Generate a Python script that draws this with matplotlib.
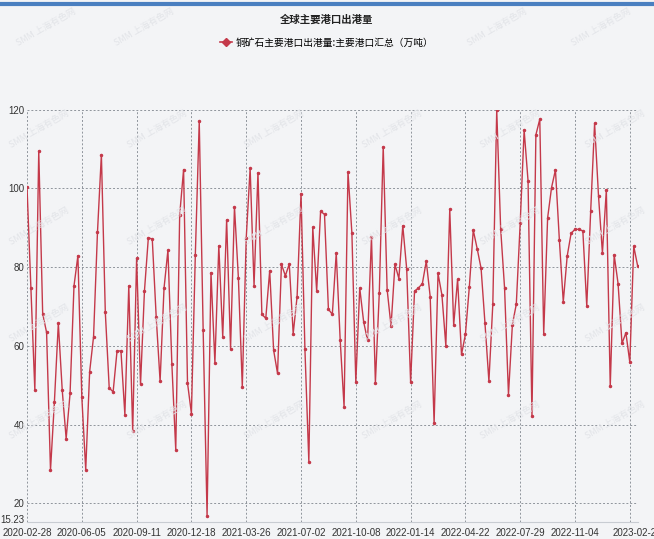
import matplotlib.pyplot as plt
from matplotlib.lines import Line2D
from matplotlib import font_manager as fm
from matplotlib.transforms import ScaledTranslation
import pandas as pd

plt.rcParams['font.family'] = ['Noto Sans CJK SC', 'DejaVu Sans']

title = '全球主要港口出港量'
series_name = '铜矿石主要港口出港量:主要港口汇总（万吨）'
dates = pd.date_range('2020-02-28', periods=157, freq='7D').strftime('%Y-%m-%d').tolist()
values = [
    100.4, 74.6, 48.7, 109.5, 68.2, 63.4, 28.4, 45.8, 65.7, 48.7,
    36.4, 47.9, 75.2, 82.9, 47.0, 28.5, 53.4, 62.3, 88.8, 108.6,
    68.6, 49.3, 48.3, 58.7, 58.7, 42.5, 75.2, 38.3, 82.2, 50.2,
    73.9, 87.5, 87.1, 67.4, 51.0, 74.6, 84.3, 55.5, 33.5, 93.2,
    104.8, 50.6, 42.8, 83.2, 117.0, 64.0, 16.8, 78.6, 55.7, 85.4,
    62.3, 92.0, 59.3, 95.3, 77.3, 49.6, 87.3, 105.1, 75.3, 104.0,
    68.0, 67.0, 79.1, 58.9, 53.0, 80.7, 77.8, 80.8, 63.1, 72.5,
    98.7, 59.1, 30.5, 90.1, 73.9, 94.2, 93.4, 69.3, 68.0, 83.6,
    61.6, 44.5, 104.2, 88.6, 50.8, 74.7, 66.1, 61.4, 87.7, 50.6,
    73.5, 110.6, 74.3, 65.0, 80.7, 77.1, 90.5, 79.5, 50.8, 73.9,
    74.7, 75.8, 81.5, 72.5, 40.3, 78.4, 72.9, 60.0, 94.7, 65.3,
    76.9, 57.8, 62.9, 75.0, 89.4, 84.7, 79.7, 65.7, 51.0, 70.6,
    119.9, 89.8, 74.7, 47.6, 65.4, 70.6, 91.3, 114.8, 101.9, 42.2,
    113.6, 117.6, 62.9, 92.5, 100.2, 104.7, 86.9, 71.2, 82.8, 88.6,
    89.6, 89.6, 89.2, 70.1, 94.2, 116.5, 98.1, 83.6, 99.6, 49.7,
    83.1, 75.8, 60.6, 63.3, 55.8, 85.3, 80.3,
]
y_ticks = [15.23, 20, 40, 60, 80, 100, 120]
y_labels = ['15.23', '20', '40', '60', '80', '100', '120']

# narrow font for the tick labels if there is one
try:
    fm.findfont(fm.FontProperties(family='Liberation Sans Narrow'), fallback_to_default=False)
    tick_font, tick_size = 'Liberation Sans Narrow', 8.5
except Exception:
    tick_font, tick_size = 'Liberation Sans', 7

red = '#c4394a'
bg = '#f3f4f6'

fig = plt.figure(figsize=(6.54, 5.39), dpi=100, facecolor=bg)
ax = fig.add_axes([0.0413, 0.0315, 0.9337, 0.765])
ax.set_facecolor(bg)

x = list(range(len(values)))
ax.plot(x, values, color=red, lw=1.0, marker='o', markersize=1.5, zorder=3)

ax.set_xlim(0, len(values) - 1)
ax.set_ylim(15.23, 120)

xt = list(range(0, len(values), 14)) + [len(values) - 1]
ax.set_xticks(xt)
ax.set_xticklabels(['' if i == 154 else dates[i] for i in xt],
                   fontsize=tick_size, family=tick_font, color='#333333')
ax.set_yticks(y_ticks)
ax.set_yticklabels(y_labels, fontsize=tick_size, family=tick_font, color='#333333')
ax.tick_params(axis='both', length=0)
ax.tick_params(axis='x', pad=4)
ax.tick_params(axis='y', pad=2)
# lift the 15.23 label a little off the date labels
lbl = ax.get_yticklabels()[0]
lbl.set_transform(lbl.get_transform() + ScaledTranslation(0, 3 / 100, fig.dpi_scale_trans))

ax.grid(True, color='#8f959c', lw=0.7, ls=(0, (2, 2)))
for s in ['top', 'left', 'right']:
    ax.spines[s].set_visible(False)
ax.spines['bottom'].set_color('#c8ccd2')
ax.spines['bottom'].set_linewidth(0.8)

# top blue stripe
fig.add_artist(Line2D([0, 1], [0.993, 0.993], color='#4a7fc0', lw=3, transform=fig.transFigure))

fig.text(0.5, 0.963, title, ha='center', va='center', fontsize=7.5, fontweight='bold', color='#222222')
handle = Line2D([], [], color=red, lw=1.2, marker='D', markersize=4)
fig.legend([handle], [series_name], loc='center', bbox_to_anchor=(0.5, 0.921),
           frameon=False, fontsize=7, handlelength=1.2, handletextpad=0.4)

# faint watermarks
marks = [(0.07, 0.95), (0.22, 0.95), (0.76, 0.95), (0.92, 0.95)]
for yy in [0.76, 0.58, 0.40, 0.22]:
    for xx in [0.06, 0.24, 0.42, 0.60, 0.78, 0.94]:
        marks.append((xx, yy))
for xx, yy in marks:
    fig.text(xx, yy, 'SMM 上海有色网', fontsize=6.5, color='#e2e4e8', rotation=30,
             ha='center', va='center', zorder=0)

fig.savefig('out.png', dpi=100, facecolor=bg)
